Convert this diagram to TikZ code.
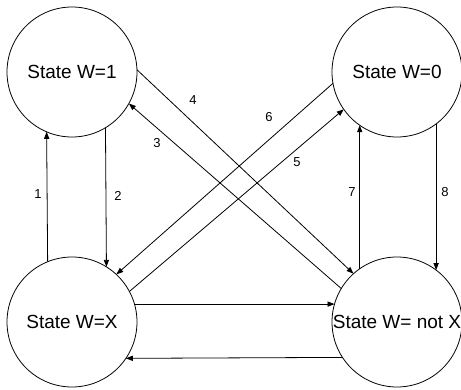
\documentclass[tikz,border=0pt]{standalone}
\usepackage{fontspec}
\setmainfont{Liberation Sans}
\usetikzlibrary{arrows.meta}

\begin{document}
\begin{tikzpicture}[x=0.5pt, y=-0.5pt,
    state/.style={circle, draw, line width=0.4pt, minimum size=65pt, inner sep=0pt, outer sep=0pt, font=\fontsize{9.5}{10}\selectfont},
    trans/.style={line width=0.4pt, -{Triangle[length=3.5pt, width=2.6pt]}},
    lbl/.style={inner sep=0pt, font=\fontsize{6.5}{7}\selectfont}]
    \useasboundingbox (0,0) rectangle (461,390);

    % states
    \node[state] (w1) at (72, 72) {State W=1};
    \node[state] (w0) at (397, 72) {State W=0};
    \node[state] (wx) at (72, 322) {State W=X};
    \node[state] (wnx) at (397, 322) {State W= not X};

    % transitions
    \draw[trans] (wx.112.6) -- (w1.247.4);
    \draw[trans] (w1.301.5) -- (wx.58.5);
    \draw[trans] (wnx.149) -- (w1.331);
    \draw[trans] (w1.2) -- (wnx.132);
    \draw[trans] (wx.28) -- (w0.215);
    \draw[trans] (w0.190) -- (wx.47);
    \draw[trans] (wnx.125) -- (w0.235);
    \draw[trans] (w0.307) -- (wnx.53);
    \draw[trans] (wx.16) -- (wnx.164);
    \draw[trans] (wnx.213.6) -- (wx.326.4);

    % labels
    \node[lbl] (n1) at (38, 194) {1};
    \node[lbl] (n2) at (118, 196) {2};
    \node[lbl] (n3) at (157, 143) {3};
    \node[lbl] (n4) at (193, 100) {4};
    \node[lbl] (n5) at (297, 162) {5};
    \node[lbl] (n6) at (269, 117) {6};
    \node[lbl] (n7) at (352, 192) {7};
    \node[lbl] (n8) at (445, 192) {8};
\end{tikzpicture}
\end{document}
